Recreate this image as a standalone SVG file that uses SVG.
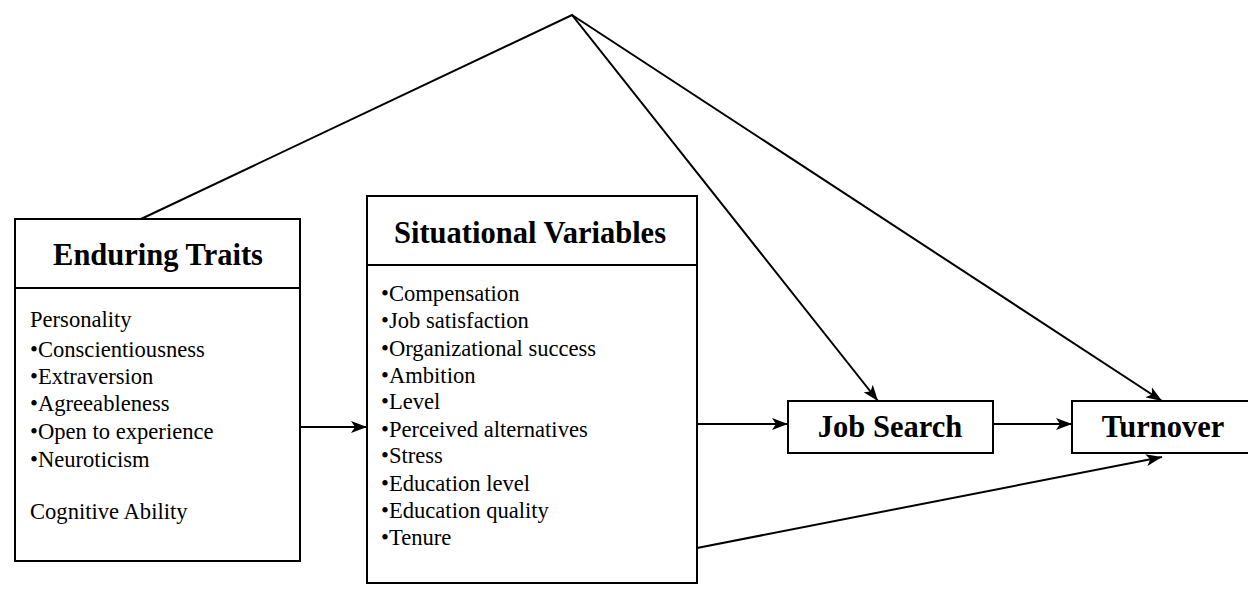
<svg xmlns="http://www.w3.org/2000/svg" width="1248" height="597" viewBox="0 0 1248 597">
<style>
.box{fill:#fff;stroke:#000;stroke-width:2}
.ttl{font-family:"Liberation Serif","Times New Roman",serif;font-weight:bold;font-size:30.5px;text-anchor:middle;fill:#000}
.txt{font-family:"Liberation Serif","Times New Roman",serif;font-size:22.6px;fill:#000}
.ln{stroke:#000;stroke-width:2;fill:none}
</style>
<defs>
<marker id="ah" viewBox="0 0 16 12" refX="16" refY="6" markerWidth="16" markerHeight="12" markerUnits="userSpaceOnUse" orient="auto">
<path d="M0,0 L16,6 L0,12 L4,6 Z" fill="#000"/>
</marker>
</defs>
<g id="connectors">
<polyline class="ln" points="141,219 572,15 878,401" marker-end="url(#ah)"/>
<line class="ln" x1="572" y1="15" x2="1162" y2="401" marker-end="url(#ah)"/>
<line class="ln" x1="300" y1="427" x2="367" y2="427" marker-end="url(#ah)"/>
<line class="ln" x1="697" y1="424" x2="788" y2="424" marker-end="url(#ah)"/>
<line class="ln" x1="993" y1="424" x2="1072" y2="424" marker-end="url(#ah)"/>
<line class="ln" x1="697" y1="548" x2="1162" y2="457" marker-end="url(#ah)"/>
</g>
<g id="enduring-traits">
<rect class="box" x="15" y="219" width="285" height="342"/>
<line class="ln" x1="15" y1="288" x2="300" y2="288"/>
<text class="ttl" x="158" y="265">Enduring Traits</text>
<text class="txt" x="30" y="327">Personality</text>
<text class="txt" x="30" y="357">•Conscientiousness</text>
<text class="txt" x="30" y="384">•Extraversion</text>
<text class="txt" x="30" y="411">•Agreeableness</text>
<text class="txt" x="30" y="439">•Open to experience</text>
<text class="txt" x="30" y="467">•Neuroticism</text>
<text class="txt" x="30" y="519">Cognitive Ability</text>
</g>
<g id="situational-variables">
<rect class="box" x="367" y="196" width="330" height="387"/>
<line class="ln" x1="367" y1="265" x2="697" y2="265"/>
<text class="ttl" x="530" y="243">Situational Variables</text>
<text class="txt" x="381" y="301">•Compensation</text>
<text class="txt" x="381" y="328">•Job satisfaction</text>
<text class="txt" x="381" y="356">•Organizational success</text>
<text class="txt" x="381" y="383">•Ambition</text>
<text class="txt" x="381" y="409">•Level</text>
<text class="txt" x="381" y="437">•Perceived alternatives</text>
<text class="txt" x="381" y="463">•Stress</text>
<text class="txt" x="381" y="491">•Education level</text>
<text class="txt" x="381" y="518">•Education quality</text>
<text class="txt" x="381" y="545">•Tenure</text>
</g>
<g id="job-search">
<rect class="box" x="788" y="401" width="205" height="52"/>
<text class="ttl" x="890" y="437">Job Search</text>
</g>
<g id="turnover">
<rect class="box" x="1072" y="401" width="190" height="52"/>
<text class="ttl" x="1163" y="437">Turnover</text>
</g>
</svg>
